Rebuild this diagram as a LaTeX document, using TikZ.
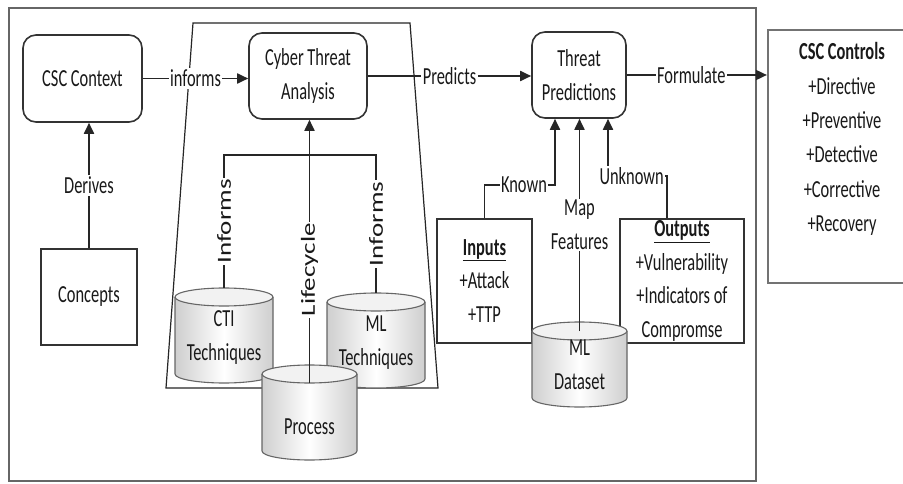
\documentclass[tikz,border=0pt]{standalone}
\usepackage{fontspec}
\setmainfont{Carlito}[FakeStretch=0.67]
\newfontfamily\rotfont{Carlito}[FakeStretch=1.35]
\usetikzlibrary{arrows.meta,calc}
\tikzset{
  every node/.style={font=\fontsize{24.5}{33.5}\selectfont, text=black!90},
  rbox/.style={draw=black!80, line width=1.6pt, rounded corners=13pt, align=center, inner sep=0pt},
  sbox/.style={draw=black!80, line width=1.6pt, align=center, inner sep=0pt},
  ctrlbox/.style={draw=black!55, line width=2.2pt, inner sep=0pt},
  lbl/.style={fill=white, inner sep=1.5pt},
  rotlbl/.style={lbl, rotate=90, font=\rotfont\fontsize{20}{24}\selectfont},
  arr/.style={draw=black!85, line width=1.8pt, -{Triangle[length=11pt,width=10pt]}},
  ln/.style={draw=black!85, line width=1.6pt},
  frame/.style={draw=black!60, line width=1.8pt},
  trap/.style={draw=black!85, line width=1.2pt},
  cylline/.style={draw=black!60, line width=1.1pt},
  cylbody/.style={left color=gray!38, right color=gray!38, middle color=white},
}
\newcommand\mycyl[7]{%
  \pgfmathsetmacro\cyx{(#2+#3)/2}%
  \pgfmathsetmacro\cyy{(#4+#5)/2}%
  \pgfmathsetmacro\cyrx{(#3-#2)/2}%
  \pgfmathsetmacro\cytc{#4+9}%
  \pgfmathsetmacro\cybc{#5-9}%
  \pgfmathsetmacro\cyrim{#4+18}%
  \pgfmathsetmacro\cyw{#3-#2}%
  \pgfmathsetmacro\cyh{#5-#4}%
  \pgfmathsetmacro\cyty{\cyy+#6}%
  \path[cylbody] (#2,\cytc) -- (#2,\cybc) arc[start angle=180,end angle=360,x radius=\cyrx pt,y radius=9pt] -- (#3,\cytc) -- cycle;
  \draw[cylline] (#2,\cytc) -- (#2,\cybc) arc[start angle=180,end angle=360,x radius=\cyrx pt,y radius=9pt] -- (#3,\cytc);
  \draw[cylline, fill=gray!10] (\cyx,\cytc) ellipse[x radius=\cyrx pt, y radius=9pt];
  \node[minimum width=\cyw pt, minimum height=\cyh pt, inner sep=0pt] (#1) at (\cyx,\cyy) {};
  \coordinate (#1-cap) at (\cyx,\cytc);
  \coordinate (#1-rim) at (\cyx,\cyrim);
  \node[align=center, inner sep=0pt] (#1-t) at (\cyx,\cyty) {#7};
}
\begin{document}
\begin{tikzpicture}[x=1pt,y=-1pt]
\useasboundingbox (0,0) rectangle (903,484);
\fill[white] (0,0) rectangle (903,484);
\draw[frame] (9,8) rectangle (756,481);
\draw[trap] (193,23) -- (410,23) -- (438,388) -- (166,388) -- cycle;

\node[ctrlbox, minimum width=148pt, minimum height=253pt] (ctrl) at (842,156.5) {};
\node[align=center, inner sep=0pt, font=\fontsize{24.5}{34.4}\selectfont] (ctrl-t) at (842,139)
  {\textbf{CSC Controls}\\+Directive\\+Preventive\\+Detective\\+Corrective\\+Recovery};

\node[rbox, minimum width=119pt, minimum height=87pt] (ctx) at (82.5,78.5) {CSC Context};
\node[rbox, minimum width=118pt, minimum height=86pt] (cta) at (308,76) {Cyber Threat\\Analysis};
\node[rbox, minimum width=94pt, minimum height=86pt] (tp) at (579,75) {Threat\\Predictions};
\node[sbox, minimum width=96pt, minimum height=96pt] (concepts) at (89,297) {Concepts};
\node[sbox, minimum width=95pt, minimum height=124pt] (inputs) at (484.5,281)
  {\underline{\textbf{Inputs}}\\+Attack\\+TTP};
\node[sbox, minimum width=124pt, minimum height=124pt] (outputs) at (682,281)
  {\underline{\textbf{Outputs}}\\+Vulnerability\\+Indicators of\\Compromse};

\mycyl{cti}{175}{273}{288}{383}{2}{CTI\\Techniques}
\mycyl{mlt}{327}{425}{293}{388}{2}{ML\\Techniques}
\mycyl{proc}{262}{357}{365}{460}{14}{Process}
\mycyl{mld}{532}{627}{322}{407}{0}{ML\\Dataset}

\draw[arr] (ctx.east) -- node[lbl]{informs} (ctx.east -| cta.west);
\draw[arr] (cta.east) -- node[lbl]{Predicts} (cta.east -| tp.west);
\draw[arr] (tp.east) -- node[lbl, pos=0.46]{Formulate} (tp.east -| ctrl.west);
\draw[arr] (concepts.north) -- node[lbl]{Derives} (concepts.north |- ctx.south);

\coordinate (brk) at (300,155);
\draw[ln] (cti.north) -- node[rotlbl]{Informs} (cti.north |- brk) -- (mlt.north |- brk)
  -- node[rotlbl]{Informs} (mlt.north);
\draw[arr] (proc-rim) -- node[rotlbl, pos=0.43]{Lifecycle} (proc-rim |- cta.south);

\coordinate (kn) at (555,185);
\coordinate (uk) at (608,176);
\draw[arr] (inputs.north) |- node[lbl, pos=0.78]{Known} (kn) -- (kn |- tp.south);
\draw[arr] ([xshift=-15pt]outputs.north) |- node[lbl, pos=0.8]{Unknown} (uk) -- (uk |- tp.south);
\draw[arr] (mld-cap) -- node[lbl, align=center]{Map\\Features} (mld-cap |- tp.south);
\end{tikzpicture}
\end{document}
